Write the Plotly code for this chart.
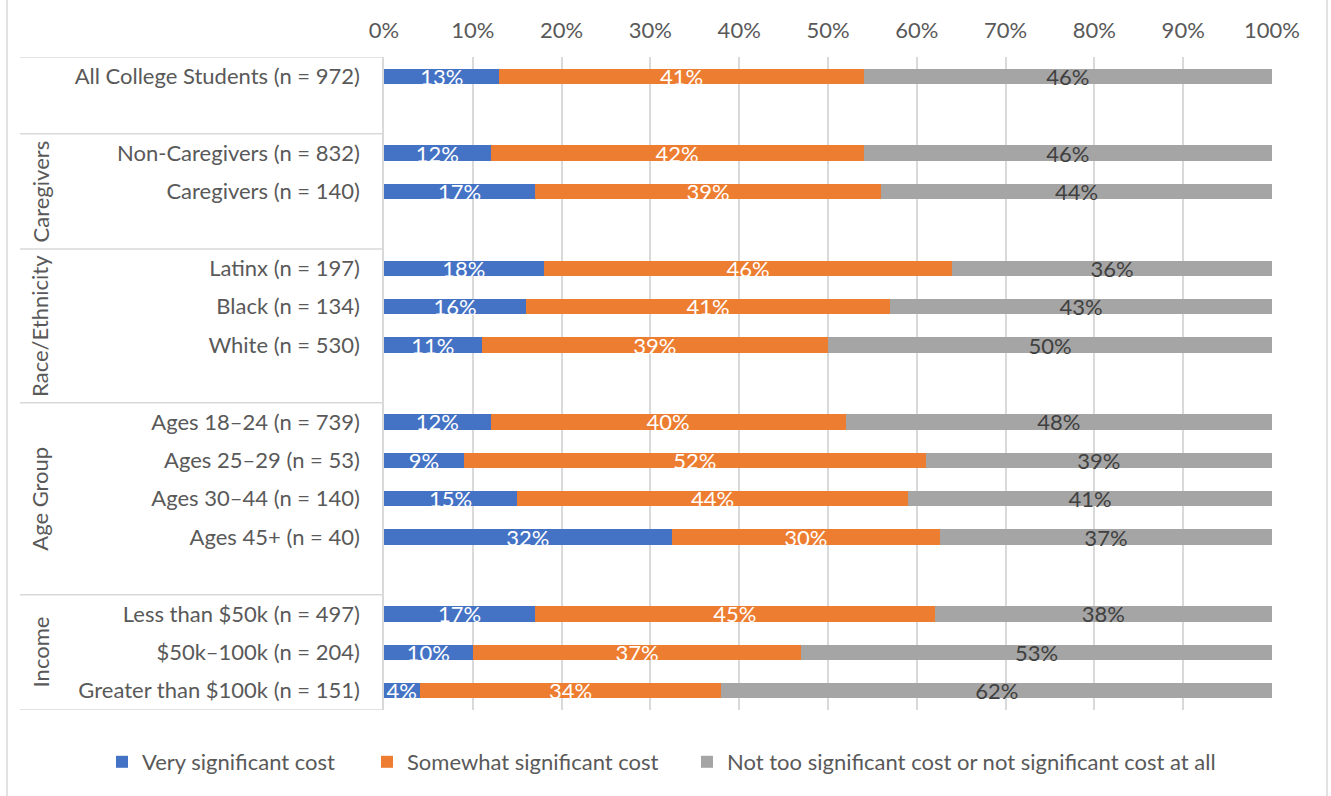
import plotly.graph_objects as go

# ---- data ----
group_names = ["", "Caregivers", "Race/Ethnicity", "Age Group", "Income"]
group_rows = [
    ["All College Students (n = 972)"],
    ["Non-Caregivers (n = 832)", "Caregivers (n = 140)"],
    ["Latinx (n = 197)", "Black (n = 134)", "White (n = 530)"],
    ["Ages 18\u201324 (n = 739)", "Ages 25\u201329 (n = 53)", "Ages 30\u201344 (n = 140)", "Ages 45+ (n = 40)"],
    ["Less than $50k (n = 497)", "$50k\u2013100k (n = 204)", "Greater than $100k (n = 151)"],
]
very = [13, 12, 17, 18, 16, 11, 12, 9, 15, 32.4, 17, 10, 4]
somewhat = [41, 42, 39, 46, 41, 39, 40, 52, 44, 30.2, 45, 37, 34]
not_sig = [46, 46, 44, 36, 43, 50, 48, 39, 41, 37.4, 38, 53, 62]
series_names = ["Very significant cost", "Somewhat significant cost",
                "Not too significant cost or not significant cost at all"]
x_ticks = list(range(0, 101, 10))
x_tick_labels = [f"{v}%" for v in x_ticks]

colors = ["#4472C4", "#ED7D31", "#A5A5A5"]
text_colors = ["white", "white", "#404040"]
FONT = "Lato, Open Sans, sans-serif"
LABEL_C = "#595959"
FS = 22

# ---- row layout: each group followed by a blank row (except last) ----
labels, ypos, boundaries, group_spans = [], [], [], []
idx = 0
for gi, rows in enumerate(group_rows):
    start = idx
    for r in rows:
        labels.append(r)
        ypos.append(idx)
        idx += 1
    if gi < len(group_rows) - 1:
        idx += 1  # blank row
    group_spans.append((start - 0.5, idx - 0.5))
    boundaries.append(idx - 0.5)
n_slots = idx

L, R, T, B = 384, 59, 57, 86
W, H = 1331, 796
pw = W - L - R
ph = H - T - B
def px2paper(px):
    return (px - L) / pw

legend_left_px = [102, 367, 687]
legend_keys = ["legend", "legend2", "legend3"]

fig = go.Figure()
for vals, name, c, tc, lk in zip([very, somewhat, not_sig], series_names, colors, text_colors, legend_keys):
    fig.add_trace(go.Bar(
        x=vals, y=ypos, orientation="h", name=name,
        marker=dict(color=c, line=dict(width=0)),
        width=0.4,
        text=vals, texttemplate="%{x:.0f}%",
        textposition="inside", insidetextanchor="middle", textangle=0,
        insidetextfont=dict(color=tc, size=FS, family=FONT),
        hoverinfo="skip", legend=lk,
    ))

shapes = []
line_c = "#D9D9D9"
for yb in [-0.5] + boundaries:
    shapes.append(dict(type="line", xref="paper", yref="y", x0=px2paper(20), x1=0,
                       y0=yb, y1=yb, line=dict(color=line_c, width=1.5)))
for xp in [7, 1327]:
    shapes.append(dict(type="line", xref="paper", yref="paper", x0=px2paper(xp), x1=px2paper(xp),
                       y0=-0.3, y1=1.3, line=dict(color=line_c, width=1.5)))

annotations = []
for gname, (a, b) in zip(group_names, group_spans):
    if gname:
        annotations.append(dict(text=gname, xref="paper", yref="y", x=px2paper(40), y=(a + b) / 2,
                                textangle=-90, showarrow=False, xanchor="center", yanchor="middle",
                                font=dict(size=FS, color=LABEL_C, family=FONT)))

legend_y = -(762 - (H - B)) / ph
legend_common = dict(orientation="h", xanchor="left", y=legend_y, yanchor="middle",
                     font=dict(size=FS, color=LABEL_C, family=FONT), bgcolor="rgba(0,0,0,0)",
                     itemwidth=30)

fig.update_layout(
    width=W, height=H, barmode="stack",
    margin=dict(l=L, r=R, t=T, b=B),
    paper_bgcolor="white", plot_bgcolor="white",
    font=dict(family=FONT, size=FS, color=LABEL_C),
    xaxis=dict(side="top", range=[0, 100], tickvals=x_ticks, ticktext=x_tick_labels,
               showgrid=True, gridcolor=line_c, gridwidth=1.5, zeroline=False,
               showline=False, ticks="", ticklabelstandoff=14,
               tickfont=dict(size=FS, color=LABEL_C)),
    yaxis=dict(range=[n_slots - 0.5, -0.5], tickvals=ypos, ticktext=labels,
               showgrid=False, zeroline=False, showline=True, linecolor=line_c, linewidth=1.5,
               ticks="", ticklabelstandoff=18, tickfont=dict(size=FS, color=LABEL_C)),
    legend=dict(x=px2paper(legend_left_px[0]), **legend_common),
    legend2=dict(x=px2paper(legend_left_px[1]), **legend_common),
    legend3=dict(x=px2paper(legend_left_px[2]), **legend_common),
    shapes=shapes, annotations=annotations,
    uniformtext=dict(minsize=FS, mode="show"),
    showlegend=True,
)
fig.write_html("out.html")
